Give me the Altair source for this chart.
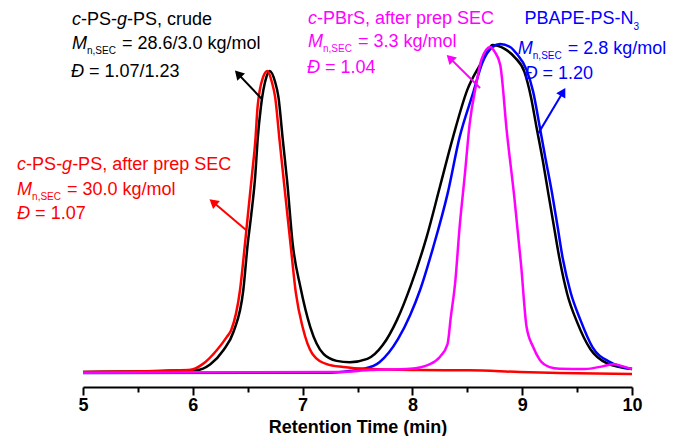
import altair as alt
import pandas as pd

# ---------------- data ----------------
black_t = [5.0, 6.03, 6.16, 6.28, 6.37, 6.46, 6.50, 6.53, 6.57, 6.59, 6.62, 6.67, 6.70, 6.75, 6.78,
           6.82, 6.86, 6.91, 6.98, 7.07, 7.19, 7.31, 7.43, 7.59, 7.73, 7.86, 7.99, 8.13, 8.25, 8.37,
           8.50, 8.62, 8.68, 8.73, 8.84, 8.93, 9.02, 9.08, 9.13, 9.19, 9.24, 9.29, 9.34, 9.41, 9.50,
           9.62, 9.77, 10.0]
black_i = [0.0, 0.006, 0.024, 0.067, 0.122, 0.25, 0.39, 0.473, 0.604, 0.707, 0.808, 0.899, 0.918, 0.884, 0.838,
           0.707, 0.579, 0.39, 0.259, 0.137, 0.055, 0.034, 0.030, 0.040, 0.082, 0.159, 0.268, 0.412, 0.564, 0.716,
           0.860, 0.939, 0.976, 0.997, 0.985, 0.960, 0.915, 0.838, 0.747, 0.640, 0.540, 0.442, 0.345, 0.238, 0.152,
           0.070, 0.027, 0.009]

red_t = [5.0, 5.97, 6.09, 6.22, 6.31, 6.35, 6.43, 6.475, 6.50, 6.54, 6.57, 6.59, 6.64, 6.68, 6.72,
         6.75, 6.79, 6.83, 6.89, 6.94, 7.00, 7.09, 7.22, 7.37, 7.61, 8.07, 8.52, 8.98, 9.34, 10.0]
red_i = [0.0, 0.006, 0.024, 0.067, 0.107, 0.128, 0.25, 0.39, 0.473, 0.604, 0.707, 0.808, 0.899, 0.918, 0.884,
         0.838, 0.707, 0.579, 0.39, 0.238, 0.137, 0.055, 0.024, 0.015, 0.009, 0.006, 0.005, 0.0, -0.003, -0.006]

blue_t = [5.0, 7.25, 7.43, 7.55, 7.70, 7.87, 7.98, 8.07, 8.19, 8.32, 8.43, 8.55, 8.64, 8.73, 8.80,
          8.89, 8.95, 9.04, 9.10, 9.16, 9.21, 9.27, 9.32, 9.37, 9.44, 9.53, 9.64, 9.80, 10.0]
blue_i = [-0.003, -0.002, 0.003, 0.009, 0.030, 0.101, 0.174, 0.25, 0.381, 0.543, 0.716, 0.848, 0.945, 0.991, 1.0,
          0.991, 0.970, 0.921, 0.854, 0.747, 0.655, 0.549, 0.448, 0.345, 0.244, 0.159, 0.076, 0.030, 0.009]

magenta_t = [5.0, 7.34, 7.61, 7.98, 8.16, 8.25, 8.32, 8.35, 8.39, 8.43, 8.48, 8.52, 8.58, 8.63, 8.71,
             8.75, 8.80, 8.86, 8.93, 8.99, 9.04, 9.10, 9.16, 9.25, 9.34, 9.57, 9.74, 9.83, 9.91, 10.0]
magenta_i = [-0.002, 0.0, 0.006, 0.010, 0.024, 0.046, 0.085, 0.168, 0.274, 0.442, 0.610, 0.753, 0.875, 0.954, 0.991,
             0.976, 0.936, 0.732, 0.527, 0.326, 0.137, 0.076, 0.037, 0.015, 0.010, 0.009, 0.018, 0.024, 0.018, 0.009]

x_ticks = [5, 5.5, 6, 6.5, 7, 7.5, 8, 8.5, 9, 9.5, 10]

# arrows: tail on curve -> arrow head
arrow_color = ["#000000", "#ff0000", "#ff00ff", "#0000ff"]
arrow_x = [6.63, 6.485, 8.616, 9.144]
arrow_y = [0.832, 0.433, 0.866, 0.726]
arrow_hx = [6.412, 6.184, 8.342, 9.372]
arrow_hy = [0.909, 0.518, 0.957, 0.854]
arrow_angle = [317, 310, 315, 30]

# annotations: lines of (x, baseline, [(text, kind)]), color
annotations = [
    ([(4.90, 1.057, [("c", "i"), ("-PS-", "n"), ("g", "i"), ("-PS, crude", "n")]),
      (4.90, 0.986, [("M", "i"), ("n,SEC", "sub"), (" = 28.6/3.0 kg/mol", "n")]),
      (4.89, 0.899, [("Đ", "i"), (" = 1.07/1.23", "n")])], "#000000"),
    ([(4.40, 0.616, [("c", "i"), ("-PS-", "n"), ("g", "i"), ("-PS, after prep SEC", "n")]),
      (4.40, 0.540, [("M", "i"), ("n,SEC", "sub"), (" = 30.0 kg/mol", "n")]),
      (4.40, 0.466, [("Đ", "i"), (" = 1.07", "n")])], "#ff0000"),
    ([(7.049, 1.061, [("c", "i"), ("-PBrS, after prep SEC", "n")]),
      (7.049, 0.991, [("M", "i"), ("n,SEC", "sub"), (" = 3.3 kg/mol", "n")]),
      (7.04, 0.912, [("Đ", "i"), (" = 1.04", "n")])], "#ff00ff"),
    ([(9.02, 1.061, [("PBAPE-PS-N", "n"), ("3", "sub")]),
      (8.96, 0.970, [("M", "i"), ("n,SEC", "sub"), (" = 2.8 kg/mol", "n")]),
      (9.02, 0.893, [("Đ", "i"), (" = 1.20", "n")])], "#0000ff"),
]

# ---------------- layout ----------------
W, H = 549, 378
XD = [5, 10]
YD = [-0.0457, 1.1067]
PXM = W / (XD[1] - XD[0])
PXU = H / (YD[1] - YD[0])
FONT = "Liberation Sans"

AW = {'a': 556, 'b': 556, 'c': 500, 'd': 556, 'e': 556, 'f': 278, 'g': 556, 'k': 500, 'l': 222,
      'm': 833, 'n': 556, 'o': 556, 'p': 556, 'r': 333, 't': 278, 'u': 556, 'A': 667, 'B': 667,
      'C': 722, 'E': 667, 'M': 833, 'N': 722, 'P': 667, 'S': 667, 'Đ': 722, ' ': 278, ',': 278,
      '-': 333, '.': 278, '/': 278, '=': 584}


def tw(s, size):
    return sum(AW.get(ch, 556) for ch in s) * size / 1000.0


rows = []
for lines, color in annotations:
    for x0, yb, segs in lines:
        cur = 0.0
        for text, kind in segs:
            size = 10 if kind == "sub" else 18
            lead = len(text) - len(text.lstrip(" "))
            cur += tw(" " * lead, size)
            text = text.lstrip(" ")
            dy = (5 if text != "3" else 6) if kind == "sub" else 0
            rows.append(dict(x=x0 + cur / PXM, y=yb - dy / PXU, text=text, kind=kind, color=color))
            cur += tw(text, size) + (1 if kind == "sub" else 0)
txt = pd.DataFrame(rows)

colors = {"black": "#000000", "blue": "#0000ff", "red": "#ff0000", "magenta": "#ff00ff"}
curves = []
for name, ts, vs in [("black", black_t, black_i), ("blue", blue_t, blue_i),
                     ("red", red_t, red_i), ("magenta", magenta_t, magenta_i)]:
    curves.append(pd.DataFrame({"t": ts, "v": vs, "color": colors[name]}))

xscale = alt.Scale(domain=XD, nice=False, zero=False)
yscale = alt.Scale(domain=YD, nice=False, zero=False)

xaxis = alt.Axis(
    values=x_ticks,
    labelExpr="datum.value % 1 === 0 ? format(datum.value, 'd') : ''",
    tickSize={"condition": {"test": "datum.value % 1 === 0", "value": 8}, "value": 5},
    title="Retention Time (min)", grid=False,
    domainColor="black", domainWidth=2, tickColor="black", tickWidth=2,
    labelFont=FONT, labelFontSize=18, labelFontWeight="bold", labelColor="black",
    labelPadding=1, labelFlush=False, labelOverlap=False,
    titleFont=FONT, titleFontSize=18, titleFontWeight="bold", titleColor="black",
    titleBaseline="alphabetic", titleY=45,
)


def X(field):
    return alt.X(field, type="quantitative", scale=xscale, axis=xaxis)


def Y(field):
    return alt.Y(field, type="quantitative", scale=yscale, axis=None)


layers = []
for df in curves:
    layers.append(
        alt.Chart(df).mark_line(strokeWidth=2.5, interpolate="monotone").encode(
            x=X("t"), y=Y("v"), color=alt.Color("color:N", scale=None))
    )

arr = pd.DataFrame({"x": arrow_x, "y": arrow_y, "hx": arrow_hx, "hy": arrow_hy,
                    "angle": arrow_angle, "color": arrow_color})
rules = alt.Chart(arr).mark_rule(strokeWidth=2).encode(
    x=X("x"), y=Y("y"), x2="hx:Q", y2="hy:Q", color=alt.Color("color:N", scale=None))
heads = alt.Chart(arr).mark_point(shape="triangle-up", filled=True, size=110, opacity=1).encode(
    x=X("hx"), y=Y("hy"), angle=alt.Angle("angle:Q", scale=None), color=alt.Color("color:N", scale=None))
layers += [rules, heads]

for kind, size, style in [("n", 18, "normal"), ("i", 18, "italic"), ("sub", 10, "normal")]:
    layers.append(
        alt.Chart(txt[txt["kind"] == kind]).mark_text(
            align="left", baseline="alphabetic", font=FONT, fontSize=size, fontStyle=style
        ).encode(x=X("x"), y=Y("y"), text="text:N", color=alt.Color("color:N", scale=None))
    )

chart = alt.layer(*layers).properties(
    width=W, height=H,
    autosize=alt.AutoSizeParams(type="none"),
    padding={"left": 75, "top": 1, "right": 35, "bottom": 49},
    background="white",
).configure_view(strokeWidth=0)

chart.save("out.html", embed_options={"renderer": "svg", "actions": False})
